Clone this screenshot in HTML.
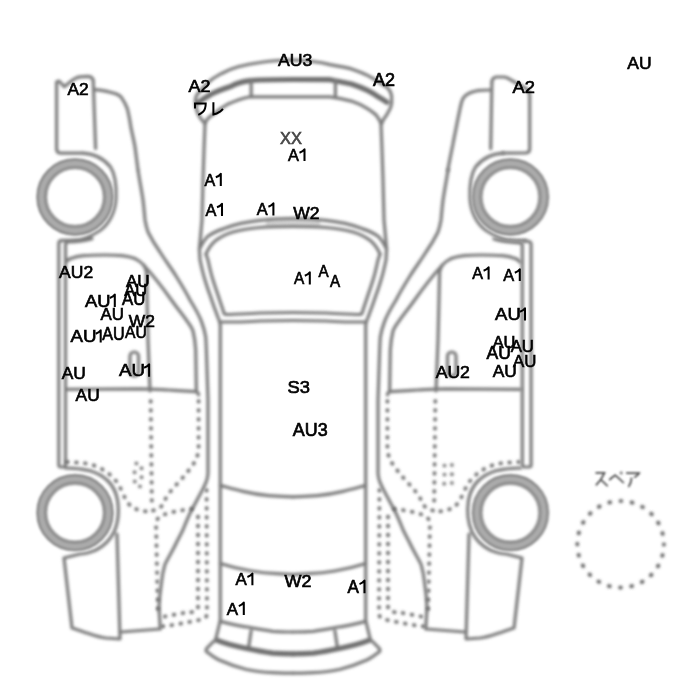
<!DOCTYPE html>
<html><head><meta charset="utf-8"><style>
html,body{margin:0;padding:0;background:#fff;}
svg{display:block;}
.txt{opacity:0.999;}
.l{fill:none;stroke:#7a7a7a;stroke-width:3.2;stroke-linecap:round;stroke-linejoin:round;}
.d{fill:none;stroke:#5c5c5c;stroke-width:3.5;stroke-linecap:round;stroke-dasharray:0.8 8.2;}
.w{fill:none;stroke:#ababab;stroke-width:11.4;}
.wl{fill:none;stroke:#8c8c8c;stroke-width:2.2;}
.tk{fill:none;stroke:#6e6e6e;stroke-width:5.2;stroke-linecap:round;}
.dot{fill:#555;}
</style></head><body>
<svg width="700" height="700" viewBox="0 0 700 700">
<defs>
<filter id="bl" filterUnits="userSpaceOnUse" x="0" y="0" width="700" height="700"><feGaussianBlur stdDeviation="1.5"/></filter>
<filter id="bl1" filterUnits="userSpaceOnUse" x="0" y="0" width="700" height="700"><feGaussianBlur stdDeviation="1"/></filter>
<!-- ============ SIDE VIEW (left), shared parts ============ -->
<g id="sidecommon">
  <!-- front fender arc -->
  <path class="l" d="M83,153.2 C95,153.8 104,159 110.5,167 C115,174 116.5,186 116,198 C115.5,212 109,224 100,230.5 C93,235 86,238.5 80,239.5 C72,240.5 64,240.3 61,240.6"/>
  <!-- wheels -->
  <!-- rear fender arc + rear bumper -->
  <path class="l" d="M65.5,468 C72,468 80,468.3 90,470.7 C98,473 104,477 108,481 C113,486 116,492 117.5,500 C119,510 118.5,522 114,532 C110,540 104,546 96,550 C90,552.5 84,554 80,554 L64,558 L72,628 C78,630 84,632.5 90,634 C96,636 102,637.5 106,638 L120,639 L117,534"/>
  <path class="l" d="M121,632 L160,629"/>
  <!-- A pillar / C pillar outer diagonal (from y=170 down) -->
  <path class="l" d="M138,170 C139.5,180 141.5,190 143,200 C144,208 144.5,215 145,220 C146,226 147,229 148,232 C151,238 155,245 160,252 C165,260 171,268 176,276 C181,284 186,292 190,300 C195,308 199,315 201.4,321.4 C203.5,327 205,332 205.7,337 C206.2,344 206.4,350 206.6,357 L208,400 L208,473.4 C207.8,477 207,480 206,482.4 C204,487 202,491 199.6,495.3 C197,500 194.5,505 191.9,509.4 C189,515 186,522 182.9,530 C180,536 177,541 176.3,543 C172,552 168,558 164.9,564.6 C163,571 162,577 161.4,583 C160,592 159.2,600 159,608 L160.3,628.6"/>
  <!-- inner diagonal B -->
  <path class="l" d="M135,258.6 C139,260.5 141.5,262.5 143.6,265 C150,272 160,284 171.4,300 C177,308 183,315 187,321 C190,325 192,328 193,331 C194.5,337 195.3,343 195.7,350 L196.4,391.4"/>
  <!-- door top + rear edge -->
  <path class="l" d="M66,262 C67.5,260 69,259 71,258.4 C75,257 79,256.2 83.6,255.7 C91,255.1 98,255 105,255 C111,255 117,255.2 122,255.7 C127,256.3 131,257.2 135,258.6 M143.6,265 C145,267 146,269.5 146.4,272 L148,340 L150,391"/>
  <!-- door bottom -->
  <path class="l" d="M65.5,389.3 L140,388.8 C150,389 160,389.6 168.6,390 C178,390.6 188,391.2 195.7,391.6 C197.5,392 198.6,393 198.6,395"/>
  <!-- door handle -->
  <rect class="l" x="130" y="352" width="8.5" height="24" rx="4.25"/>
  <!-- dotted lines -->

</g>
<g id="sidewheels">
  <circle class="w" cx="75" cy="197" r="33.2"/>
  <circle class="wl" cx="75" cy="197" r="30"/>
  <circle class="wl" cx="75" cy="197" r="37.3"/>
  <circle class="w" cx="75" cy="512.7" r="33.2"/>
  <circle class="wl" cx="75" cy="512.7" r="30"/>
  <circle class="wl" cx="75" cy="512.7" r="37.3"/>
</g>
<g id="sidedots">
  <path class="d" d="M150.7,401 L151.9,507"/>
  <path class="d" d="M198.6,401 L198.6,449.7 C198,454 197,458 195.4,460.7 C193.5,464 191.5,467 189,470 C186,474 183,477.5 179.7,481 C176,485 172,489.5 168.7,493.7 C166,497.5 164,501.5 162.6,505 C160,508 157,510 153,510.5"/>
  <path class="d" d="M67,462 C74,462.3 80,462.8 87,463.5 C92,464.5 97,466.5 101,468.6 C107,472 112,476 116,481 C119,485 121,489 123,494 C125,498 126.5,501 128,503 C130,505.5 131.5,507 133,507.4 C136,509 139,510.5 142,511 C145,511.5 148,511.5 151,511"/>
  <path class="d" d="M192,509 C186,509.6 180,510.5 175,511.5 C171,512.5 167,513.3 164.9,514.3 C160,515.5 157,518 156,523.4 L158,615"/>
  <path class="d" d="M198,516.6 L198,608 C197.5,610.5 196,611.5 193,612 C190,612.3 188,612.5 185.4,612.6 C178,614 170,615.5 162.6,617"/>
  <path class="d" d="M206.6,490 L207,615 C206,617.5 204,619 201.4,619.4 C194,621 186,622.8 178.6,624 C173,625 168,625.7 162.6,626.3"/>
</g>
<g id="sideL">
  <!-- front bumper -->
  <path class="l" d="M93.2,80.3 C92.5,77 90,76.4 87.4,76.4 L80,76.8 C76,77.3 73,79.5 70.7,81.6 L64.3,86.7 L59,81 L56.6,82 L56.6,149 Q56.6,153 60.5,153.1 L83,153.2"/>
  <path class="l" d="M93.2,80.3 L95.6,148.5"/>
  <!-- hood top -->
  <path class="l" d="M93.9,89.3 C97,89.8 100,90.2 102.9,90.6 C108,91.6 112,92.5 115.7,93.8 C119,95 121,96.5 122,98.3 C124.5,102 126,105 127.3,108.6 C129,115 130,121 131,127.9 C132.5,135 134,141 135,147 C136,155 137,162 138,170"/>
  <!-- sill -->
  <path class="l" d="M61,240.6 Q58.8,241 58.8,243.5 L58.8,465 Q58.8,467 61,467 L63,467 Q65.5,467 65.5,465 L65.5,245 Q65.5,242.2 68,242 C76,241.6 84,241 92,238.6"/>
</g>
<!-- ============ TOP VIEW half (left), mirrored ============ -->
<g id="tophalf">
  <path class="l" d="M205,123.5 L204,150 L203,180 L202,220 L199.4,249"/>
  <path class="l" d="M199.4,249 C201.5,244.5 204,240.5 207,237 C212,233 218,230.5 224,228.6 C230,226.3 235.5,224.6 241,223.4 C248,222 254,221 260,220.3 C272,219 282,218.6 293,218.5"/>
  <path class="l" d="M206,254 C208.5,248.5 211.5,244 215.7,240.6 C221,236.5 227,233.8 233,232 C241,229.8 250,228.3 260,227.5 C272,226.6 282,226.4 293,226.4"/>
  <path class="l" d="M199.4,249 C199.6,253 199.8,257 200,260 C201.5,267 203,274 205,280 C206.5,285 208,290 210,295 C212,301 214,307 216,312 C217,315 218,317.5 219,320 C219.7,321.8 220,323.5 220.3,325 L220.3,621.4"/>
  <path class="l" d="M206,254 C206.6,256 207.3,258 208,260 C209.5,267 211,274 213,280 C214.6,285 216.2,290 218,295 C219.6,300 221.3,305 223,310 C223.5,312 224,313.5 224.5,314 C226,314.6 228,314.5 230,314.5 C240,314 250,313.4 260,313 L293,312.5"/>
  <path class="l" d="M220.3,322 C227,322 234,322 240,322 C247,321.6 254,321.2 260,321 L293,320.5"/>
  <path class="l" d="M220.3,485.4 C228,487.5 235,489.6 242.9,491.4 C251,493.3 260,494.8 268.6,495.7 C277,496.4 285,496.8 293,496.8"/>
  <path class="l" d="M220.3,563.4 C230,566.5 240,569 251.4,571 C260,572.5 268,573.3 277,573.7 L293,574.6"/>
  <path class="l" d="M220.3,621.4 C228,623.5 236,625.5 245.7,626.8 C255,628.5 264,630.3 272.8,631.3 C280,631.9 286,632 293,632"/>
  <path class="l" d="M219.9,622 L215.9,638.7"/>
  <path class="l" d="M251.1,631 L248.6,647.4"/>
  <path class="tk" d="M216.5,640.2 C225,643.5 235,646.3 245.7,648.3 C255,650.3 264,652 272.8,653.2 C280,653.7 286,653.8 293,653.8"/>
  <path class="l" d="M215.9,639.4 C212,643 208.5,646.5 206.4,648.9 C206,650 206,651 206.4,651.6 C210,654.5 214,657.5 218.6,659.8 C227,663.5 236,666.8 245.7,669.3 C254,671.2 263,672.3 272.8,672.7 C280,673 286,673.2 293,673.2"/>
</g>
</defs>
<!-- center band fill between hood arc and windshield top -->
<path d="M266,222.5 C280,221.8 306,221.8 320,222.5" fill="none" stroke="#d0d0d0" stroke-width="7" opacity="0.9" filter="url(#bl)"/>
<g filter="url(#bl)">
<use href="#sidecommon"/>
<use href="#sideL"/>
<use href="#sidecommon" transform="matrix(-1,0,0,1,586,0)"/>
</g>
<g filter="url(#bl1)">
<use href="#sidewheels"/>
<use href="#sidewheels" transform="matrix(-1,0,0,1,585.4,0)"/>
</g>
<g filter="url(#bl)">
<use href="#sidedots"/>
<use href="#sidedots" transform="matrix(-1,0,0,1,586,0)"/>
<g class="fuelL"><circle class="dot" cx="136.4" cy="463.4" r="1.7"/><circle class="dot" cx="141.6" cy="468.3" r="1.7"/><circle class="dot" cx="134.6" cy="472.3" r="1.7"/><circle class="dot" cx="141.6" cy="477.2" r="1.7"/><circle class="dot" cx="134.8" cy="481.5" r="1.7"/><circle class="dot" cx="140" cy="486.4" r="1.7"/></g>
<g><circle class="dot" cx="444.5" cy="465.6" r="1.7"/><circle class="dot" cx="451.9" cy="465" r="1.7"/><circle class="dot" cx="444.5" cy="474.6" r="1.7"/><circle class="dot" cx="451.9" cy="474.3" r="1.7"/><circle class="dot" cx="444.2" cy="483.8" r="1.7"/><circle class="dot" cx="451.9" cy="483" r="1.7"/></g>
</g>
<g filter="url(#bl)">
<!-- right view specific -->
<path class="l" d="M491.9,82 C492,79.5 493.5,77.5 496.3,77 L504,77 C506.5,77.2 508.5,78.3 510.4,79.6 C516,83 522,86 527,89.3 C528.7,90.8 529.6,93 529.7,95.7 L529.7,149 Q529.7,152.6 526,152.9 L503,153.2"/>
<path class="l" d="M491.9,82 L490.7,148.6"/>
<path class="l" d="M490.7,90 C486,90 481,90.2 477.1,90.7 C473,91.5 469.5,92.7 467.1,94.3 C465,95.6 463.8,97 462.9,98.6 C461.8,101 461.2,103 460.7,105.7 C459.5,111 458.3,117 457.1,122.9 C455.8,130 454.2,137 452.9,144.3 C451.5,151 450,158.5 448.6,165.7 L448,170"/>
<path class="l" d="M525,240.8 Q531.1,241 531.1,244 L531.1,465 Q531.1,467 529,467 L524.5,467 Q522.3,467 522.3,465 L522.3,245 Q522.3,243 520,242.8 C512,242.4 502,241.5 494,239"/>
<use href="#tophalf"/>
<use href="#tophalf" transform="matrix(-1,0,0,1,586,0)"/>
<!-- top view front bumper (explicit) -->
<path class="l" d="M205,123.5 C202,120.5 200,118 198.6,115 C197,111.5 195.8,107.5 195.4,103 C195.3,100.5 195.5,98 196.4,95.7 C198,93 201,90 204,87 C206,84.5 208.5,82 211.4,79.7 C214.5,77.5 218,75.5 222.2,73.2 C227,70.8 232,68.5 238.2,66.8 C245,65 252,63.5 260,62.5 C270,61 280,60.3 293,60 C306,60.3 318,61.5 330,64.6 C338,66 345,67.3 351.4,68.9 C357,71 362.5,73 367.5,75.4 C371.5,77.5 375,79.5 378.2,81.8 C382,84.3 385.5,86.3 387.9,88.2 C390,90.5 391.2,93 391.6,95.7 L391.6,103.2 C391.2,106 390.3,108.5 389,110.7 C387.5,114 385.5,117 383.6,119.3 L381.4,124"/>
<path class="tk" d="M198.6,102.5 C200.5,101 202,99.8 204,98.5 C206.5,97 209,95.5 211.4,94 C215,92.2 218.5,90.8 222,89.5 C225,88.3 228,87.3 230.7,86.5 C233,85.3 235.5,84.1 238,83.3 C242,82 246,81.2 250,80.7 C253.5,80.3 256.5,80.1 260,80 C270,79.6 282,79.5 293,79.5 C306,79.5 318,79.6 330,79.7 C337,81 344,82.4 351.4,84 C357,85.8 362.5,88 367.5,90.4 C371.5,92.4 375,94.5 378.2,96.8 C381.5,98.7 384.3,100.5 386.8,102.2"/>
<path class="l" d="M205,123.5 C206,121 207,119.5 208.2,118.2 C210.5,116 213.5,114 216.8,111.8 C220,109 223.5,106.5 227.5,104.3 C230.5,103 234,101.5 238.2,100 C241.5,98.8 245,97.8 250,96.8 L260,96.8 L293,96.8 L330,96.8 C337,97.8 344,99.2 351.4,101.1 C357,103 362.5,105.5 367.5,108.6 C370.5,110.5 373.5,112.5 376.1,115 C378,117.5 379.8,120.5 381.4,124"/>
<path class="l" d="M251.2,80.5 L251.2,96.8 M335.4,80.5 L335.4,96.8"/>
</g>
<!-- spare -->
<circle cx="620.6" cy="544.3" r="43.3" fill="none" stroke="#505050" stroke-width="3.6" stroke-linecap="round" stroke-dasharray="0.8 10.536" stroke-dashoffset="0.4" filter="url(#bl)"/>
<g class="txt" style='font-family:"Liberation Sans",sans-serif;font-size:18px;stroke-width:0.7'>
<text transform="matrix(0.9636,0,0,0.9208,67.38,94.87)" fill="#000" stroke="#000">A2</text>
<text transform="matrix(0.9955,0,0,0.8906,188.60,92.18)" fill="#000" stroke="#000">A2</text>
<text transform="matrix(0.9800,0,0,0.8889,277.99,66.26)" fill="#000" stroke="#000">AU3</text>
<text transform="matrix(1.0000,0,0,0.9736,372.90,86.26)" fill="#000" stroke="#000">A2</text>
<text transform="matrix(0.9714,0,0,0.9509,627.29,69.02)" fill="#000" stroke="#000">AU</text>
<text transform="matrix(1.0182,0,0,0.9509,512.41,92.76)" fill="#000" stroke="#000">A2</text>
<text transform="matrix(0.9125,0,0,0.8755,280.00,143.56)" fill="#474747" stroke="#474747">XX</text>
<text transform="matrix(0.9077,0,0,0.9231,287.95,160.87)" fill="#000" stroke="#000">A</text>
<text transform="matrix(0.8923,0,0,0.9462,204.45,185.76)" fill="#000" stroke="#000">A</text>
<text transform="matrix(0.9077,0,0,0.9462,205.45,215.76)" fill="#000" stroke="#000">A</text>
<text transform="matrix(0.9077,0,0,0.9462,256.85,215.16)" fill="#000" stroke="#000">A</text>
<text transform="matrix(0.9757,0,0,0.9208,293.14,219.37)" fill="#000" stroke="#000">W2</text>
<text transform="matrix(0.8538,0,0,0.9538,293.93,284.26)" fill="#000" stroke="#000">A</text>
<text transform="matrix(0.8462,0,0,0.9615,318.42,276.76)" fill="#000" stroke="#000">A</text>
<text transform="matrix(0.8462,0,0,0.9615,329.92,287.26)" fill="#000" stroke="#000">A</text>
<text transform="matrix(0.9743,0,0,0.9111,59.09,278.44)" fill="#000" stroke="#000">AU2</text>
<text transform="matrix(0.9510,0,0,0.9057,125.88,286.55)" fill="#000" stroke="#000">AU</text>
<text transform="matrix(0.9102,0,0,0.9434,124.36,295.63)" fill="#000" stroke="#000">AU</text>
<text transform="matrix(0.9306,0,0,0.9736,121.97,305.41)" fill="#000" stroke="#000">AU</text>
<text transform="matrix(1.0204,0,0,0.9585,85.11,306.62)" fill="#000" stroke="#000">AU</text>
<text transform="matrix(0.9388,0,0,0.9434,100.47,320.03)" fill="#000" stroke="#000">AU</text>
<text transform="matrix(0.9682,0,0,0.9509,128.84,326.56)" fill="#000" stroke="#000">W2</text>
<text transform="matrix(1.0408,0,0,0.9358,70.52,342.03)" fill="#000" stroke="#000">AU</text>
<text transform="matrix(0.8980,0,0,0.9736,102.35,340.01)" fill="#000" stroke="#000">AU</text>
<text transform="matrix(0.8694,0,0,0.9509,125.03,338.12)" fill="#000" stroke="#000">AU</text>
<text transform="matrix(0.9633,0,0,0.9434,61.78,379.03)" fill="#000" stroke="#000">AU</text>
<text transform="matrix(1.0408,0,0,0.9434,118.92,376.23)" fill="#000" stroke="#000">AU</text>
<text transform="matrix(0.9633,0,0,0.9509,75.58,400.62)" fill="#000" stroke="#000">AU</text>
<text transform="matrix(0.8923,0,0,0.9538,472.25,279.26)" fill="#000" stroke="#000">A</text>
<text transform="matrix(0.9077,0,0,0.9154,503.25,280.77)" fill="#000" stroke="#000">A</text>
<text transform="matrix(1.0286,0,0,0.9283,495.11,319.94)" fill="#000" stroke="#000">AU</text>
<text transform="matrix(0.9102,0,0,0.9208,492.66,347.74)" fill="#000" stroke="#000">AU</text>
<text transform="matrix(0.9755,0,0,0.9811,486.49,358.51)" fill="#000" stroke="#000">AU</text>
<text transform="matrix(0.9306,0,0,0.9132,510.67,352.04)" fill="#000" stroke="#000">AU</text>
<text transform="matrix(0.9347,0,0,0.9132,513.07,366.94)" fill="#000" stroke="#000">AU</text>
<text transform="matrix(0.9771,0,0,0.8889,435.69,377.56)" fill="#000" stroke="#000">AU2</text>
<text transform="matrix(0.9633,0,0,0.8830,492.68,376.76)" fill="#000" stroke="#000">AU</text>
<text transform="matrix(1.0190,0,0,0.9556,287.49,392.92)" fill="#000" stroke="#000">S3</text>
<text transform="matrix(0.9943,0,0,0.9778,292.80,435.81)" fill="#000" stroke="#000">AU3</text>
<text transform="matrix(0.9385,0,0,0.9154,235.47,585.07)" fill="#000" stroke="#000">A</text>
<text transform="matrix(0.9981,0,0,0.9208,284.55,586.57)" fill="#000" stroke="#000">W2</text>
<text transform="matrix(0.9462,0,0,0.9769,347.47,592.96)" fill="#000" stroke="#000">A</text>
<text transform="matrix(0.9385,0,0,0.9538,226.87,614.66)" fill="#000" stroke="#000">A</text>
</g>
<path fill="none" stroke="#000" stroke-width="2.05" stroke-linejoin="round" d="M299.50,152.70 C301.50,152.00 303.40,150.80 304.50,149.25 L304.50,161.10 M215.80,177.30 C217.80,176.60 219.70,175.40 220.80,173.85 L220.80,186.00 M217.00,207.30 C219.00,206.60 220.90,205.40 222.00,203.85 L222.00,216.00 M268.40,206.70 C270.40,206.00 272.30,204.80 273.40,203.25 L273.40,215.40 M304.80,275.70 C306.80,275.00 308.70,273.80 309.80,272.25 L309.80,284.50 M109.80,298.00 C111.80,297.30 113.70,296.10 114.80,294.55 L114.80,307.10 M95.70,333.70 C97.70,333.00 99.60,331.80 100.70,330.25 L100.70,342.50 M144.10,367.80 C146.10,367.10 148.00,365.90 149.10,364.35 L149.10,376.70 M483.60,270.70 C485.60,270.00 487.50,268.80 488.60,267.25 L488.60,279.50 M514.80,272.70 C516.80,272.00 518.70,270.80 519.80,269.25 L519.80,281.00 M520.00,311.70 C522.00,311.00 523.90,309.80 525.00,308.25 L525.00,320.40 M247.40,577.00 C249.40,576.30 251.30,575.10 252.40,573.55 L252.40,585.30 M359.50,584.10 C361.50,583.40 363.40,582.20 364.50,580.65 L364.50,593.20 M238.80,606.10 C240.80,605.40 242.70,604.20 243.80,602.65 L243.80,614.90"/>
<g fill="none" stroke="#000" stroke-width="2" stroke-linecap="butt" stroke-linejoin="miter">
<path d="M195,108.4 L195,103.4 L205.7,103.4 C205.7,107.5 204.8,110 203,111.8 C201.6,113.3 200,114.2 198.3,114.9"/>
<path d="M213.4,102.2 L213.4,114.4 C216,114 218,113 220,111.6 C221.2,110.7 222.2,109.8 222.9,108.9"/>
</g>
<g fill="none" stroke="#4a4a4a" stroke-width="1.7" stroke-linecap="butt" stroke-linejoin="miter" filter="url(#bl1)">
<path d="M595.5,472.9 L604.5,472.9 C602.5,477.5 599.5,482 595.9,485.4"/>
<path d="M600.6,479.6 C603,481.5 605.5,483.8 607.7,486.2"/>
<path d="M609.2,480.2 C611,478.3 613,476.4 615.1,475.2 C618,477.6 621,480.3 623.8,483"/>
<circle cx="621.2" cy="473" r="1.1" stroke-width="0.9"/>
<path d="M626.1,473.2 L639.1,473.2 C638,475 636.3,476.3 634.2,477.4"/>
<path d="M631.6,477.6 C631.4,481.5 630.3,484.5 628.5,487"/>
</g>

</svg>
</body></html>
